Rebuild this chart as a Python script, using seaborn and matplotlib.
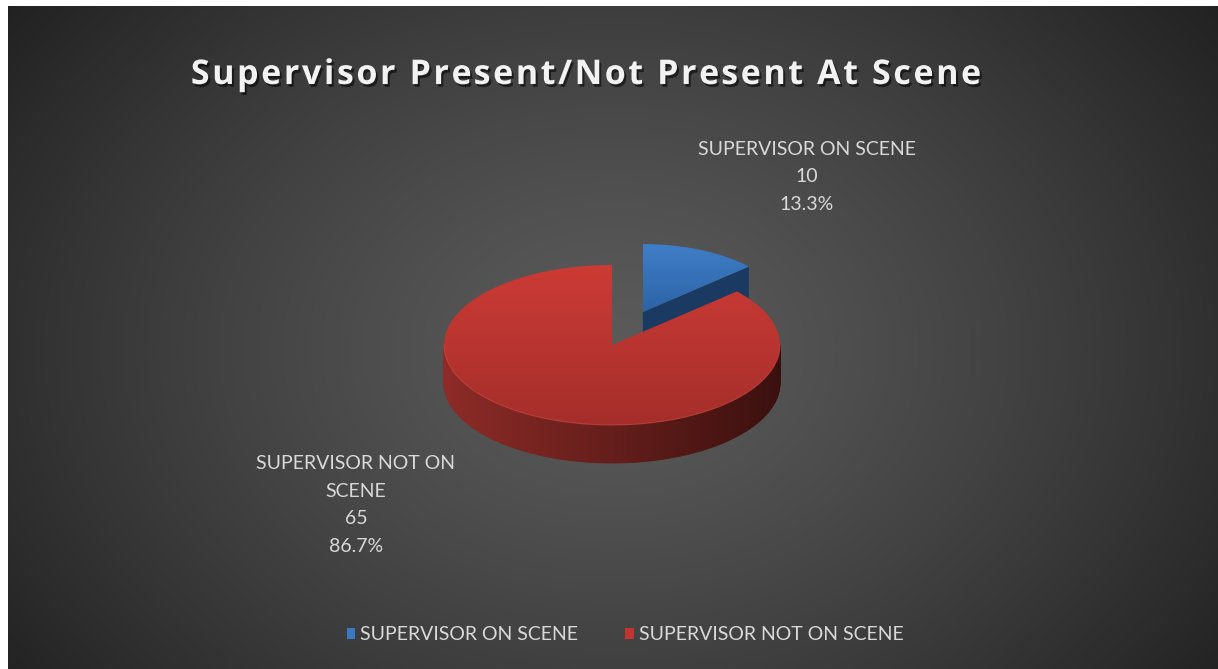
import numpy as np
import matplotlib.pyplot as plt
import matplotlib.patheffects as pe
from matplotlib.patches import Polygon, Patch
from matplotlib.colors import to_rgb
import seaborn as sns

sns.set_theme(style="dark")
plt.rcParams['font.family'] = ['Lato', 'DejaVu Sans']

# data
title = "Supervisor Present/Not Present At Scene"
categories = ["SUPERVISOR ON SCENE", "SUPERVISOR NOT ON SCENE"]
counts = [10, 65]
label_text = ["SUPERVISOR ON SCENE", "SUPERVISOR NOT ON\nSCENE"]
explode = [0.45, 0.0]
top_colors = [("#3f7ec7", "#2d63a6"), ("#cc3b36", "#a52e2a")]
side_colors = [("#2a5488", "#1b3a62"), ("#8e2b27", "#3a100e")]
legend_colors = ["#3a78c0", "#c0352f"]

W, H = 1218, 669
fig = plt.figure(figsize=(W / 100, H / 100), dpi=100, facecolor="white")

# background (radial gradient, white strip top/left)
bg = fig.add_axes([8 / W, 0, 1 - 8 / W, 1 - 6 / H])
yy, xx = np.mgrid[0:300, 0:600]
r = np.sqrt(((xx - 300) / 330.0) ** 2 + ((yy - 155) / 230.0) ** 2)
g = 0.355 - 0.19 * np.clip(r, 0, 1.25) ** 1.3
bg.imshow(np.dstack([g, g, g]), aspect="auto", extent=[0, 1, 0, 1])
bg.set_axis_off()

ax = fig.add_axes([0, 0, 1, 1])
ax.set_xlim(0, W)
ax.set_ylim(H, 0)
ax.set_axis_off()
ax.patch.set_alpha(0)

cx, cy, a, b, depth = 612, 345, 168, 80, 38


def pt(theta, scale=1.0, dx=0, dy=0):
    t = np.radians(theta)
    return cx + dx + scale * a * np.cos(t), cy + dy - scale * b * np.sin(t)


def gradient_fill(poly_xy, c1, c2):
    poly = Polygon(poly_xy, closed=True, facecolor="none", edgecolor="none")
    ax.add_patch(poly)
    c1, c2 = np.array(to_rgb(c1)), np.array(to_rgb(c2))
    s = np.linspace(0, 1, 200)
    arr = c1[None, :] * (1 - s[:, None]) + c2[None, :] * s[:, None]
    xs, ys = poly_xy[:, 0], poly_xy[:, 1]
    im = ax.imshow(arr[:, None, :], extent=[xs.min(), xs.max(), ys.max(), ys.min()],
                   aspect="auto", zorder=poly.get_zorder())
    im.set_clip_path(poly)


fracs = np.array(counts) / sum(counts)
start = 90.0
slices = []
for f in fracs:
    t1 = start - 360 * f
    slices.append((start, t1))
    start = t1

# blue slice (exploded, further back) first
t0, t1 = slices[0]
mid = np.radians((t0 + t1) / 2)
sc = 0.85
dx = explode[0] * a * np.cos(mid)
dy = -explode[0] * b * np.sin(mid)
d = depth * sc
apx, apy = cx + dx, cy + dy
rx, ry = pt(t1, sc, dx, dy)
face = np.array([[apx, apy], [rx, ry], [rx, ry + d], [apx, apy + d]])
ax.add_patch(Polygon(face, closed=True, facecolor=side_colors[0][1], edgecolor="none"))
arc = np.array([pt(t, sc, dx, dy) for t in np.linspace(t0, t1, 60)])
gradient_fill(np.vstack([[apx, apy], arc]), *top_colors[0])

# red slice: front rim
t0, t1 = slices[1]
c1, c2 = np.array(to_rgb(side_colors[1][0])), np.array(to_rgb(side_colors[1][1]))
ths = np.linspace(180, 360, 181)
for k in range(len(ths) - 1):
    p1, p2 = pt(ths[k]), pt(ths[k + 1])
    q = np.array([p1, p2, [p2[0], p2[1] + depth], [p1[0], p1[1] + depth]])
    s = (p1[0] - (cx - a)) / (2 * a)
    col = c1 * (1 - s) + c2 * s
    ax.add_patch(Polygon(q, closed=True, facecolor=col, edgecolor=col, lw=0.6))

arc = np.array([pt(t) for t in np.linspace(t0, t1, 300)])
gradient_fill(np.vstack([[cx, cy], arc]), *top_colors[1])
front = np.array([pt(t) for t in np.linspace(180, 360, 200)])
ax.plot(front[:, 0], front[:, 1], color="#d24a44", lw=0.8, alpha=0.6)

# title, drawn char by char to get the wide letter spacing
renderer = fig.canvas.get_renderer()
tkw = dict(fontsize=24.5, fontweight="bold", color="#f2f2f2", va="center", ha="left",
           family=["Open Sans", "DejaVu Sans"],
           path_effects=[pe.withSimplePatchShadow(offset=(1.5, -2), shadow_rgbFace="black",
                                                  alpha=0.55)])


def text_w(s):
    t = ax.text(0, 0, s + "l", **tkw)
    w = t.get_window_extent(renderer).width
    t.remove()
    return w


base = text_w("")
spacing = 2.6
widths = [text_w(title[:k]) - base for k in range(len(title) + 1)]
total = widths[-1] + spacing * (len(title) - 1)
x0 = 586 - total / 2
for k, ch in enumerate(title):
    if ch != " ":
        ax.text(x0 + widths[k] + spacing * k, 75, ch, **tkw)

# data labels
lab_pos = [(807, 177), (356, 505)]
for i in range(len(counts)):
    txt = f"{label_text[i]}\n{counts[i]}\n{fracs[i] * 100:.1f}%"
    ax.text(lab_pos[i][0], lab_pos[i][1], txt, ha="center", va="center",
            fontsize=14, color="#d9d9d9", linespacing=1.75)

# legend
handles = [Patch(facecolor=legend_colors[i], edgecolor="none", label=categories[i])
           for i in range(len(categories))]
ax.legend(handles=handles, loc="center", bbox_to_anchor=(625 / W, 1 - 635 / H),
          ncol=2, frameon=False, fontsize=14, labelcolor="#d9d9d9",
          handlelength=0.45, handleheight=0.45, handletextpad=0.25, columnspacing=2.4)

fig.savefig("out.png", dpi=100, facecolor="white")
